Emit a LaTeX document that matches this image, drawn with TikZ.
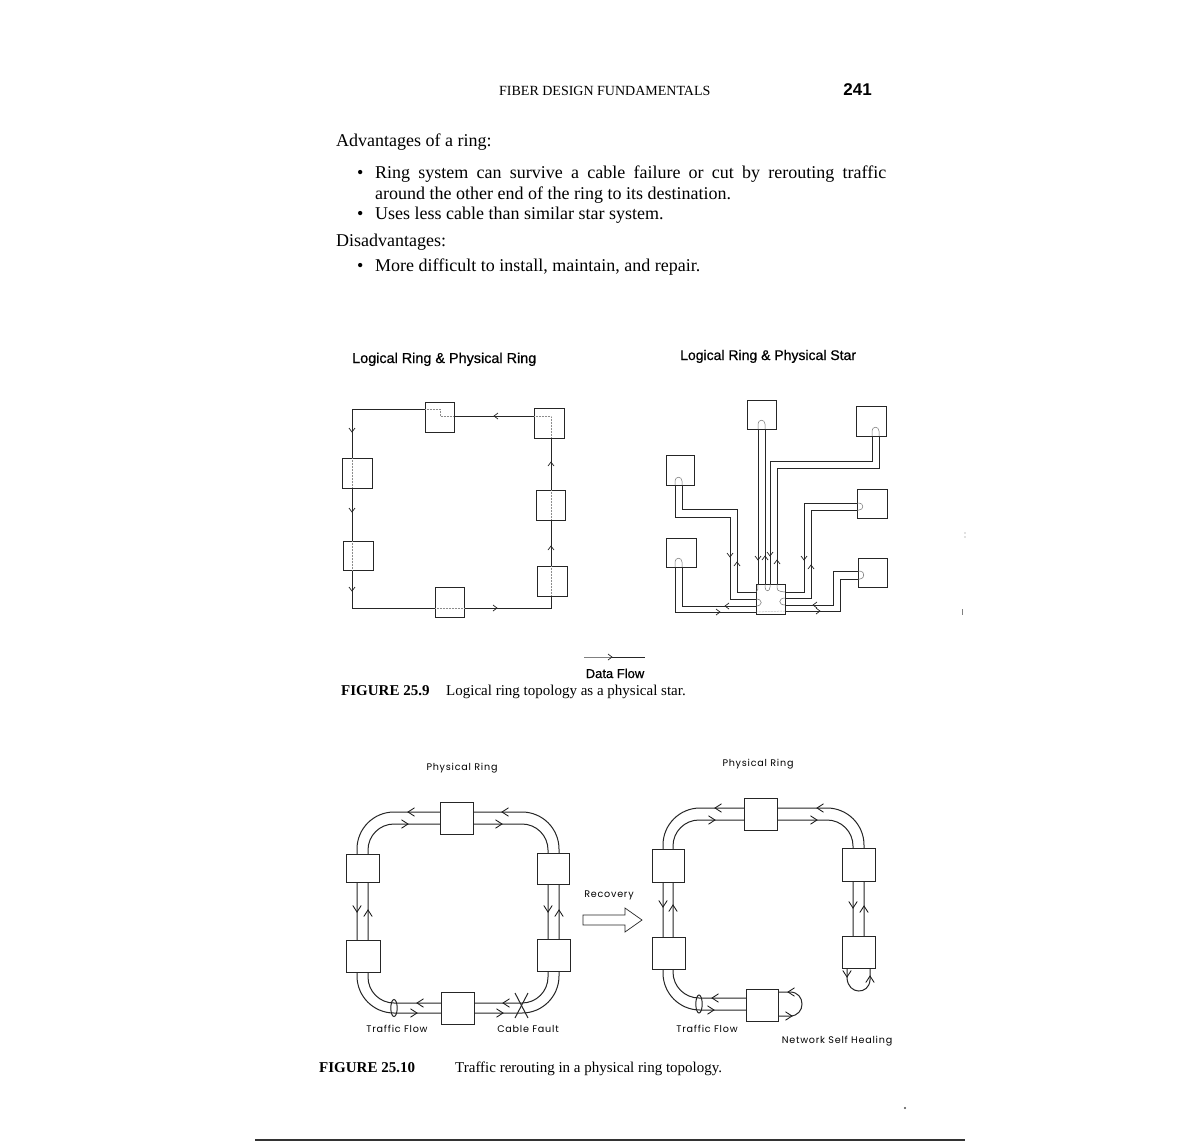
\documentclass[tikz,border=0pt]{standalone}
\usepackage{fontspec}
\setmainfont{Liberation Serif}
\newfontfamily\hv{Liberation Sans}
\newfontfamily\hvb[FakeBold=0.6]{Liberation Sans}
\newfontfamily\geo[LetterSpace=8]{Poppins}
\newcommand\bodyf{\fontsize{18}{21}\selectfont}
\newcommand\capf{\fontsize{15}{17}\selectfont}
\newcommand\lblf{\geo\fontsize{9.6}{11}\selectfont}
\tikzset{
  txt/.style={inner sep=0pt, anchor=base west},
  ln/.style={draw=black!85, line width=1pt},
  inr/.style={draw=black!45, line width=0.5pt, densely dotted},
  arcin/.style={draw=black!55, line width=0.5pt},
  boxst/.style={draw=black!85, line width=1pt, fill=white, inner sep=0pt, outer sep=0pt, anchor=north west},
  chevs/.pic={\draw[black!85, line width=0.7pt] (-4,3) -- (0,0) -- (-4,-3);},
  chevl/.pic={\draw[black!90, line width=0.85pt] (-6.5,4.2) -- (0,0) -- (-6.5,-4.2);},
}
% box by corners: name, x1, y1, x2, y2
\newcommand\bx[5]{\node[boxst, minimum width={(#4-#2)*1pt}, minimum height={(#5-#3)*1pt}] (#1) at (#2,#3) {};}
\newcommand\cs[3]{\pic[rotate=#3] at (#1,#2) {chevs};}
\newcommand\cl[3]{\pic[rotate=#3] at (#1,#2) {chevl};}
\begin{document}
\begin{tikzpicture}[x=1pt,y=-1pt]
\useasboundingbox[fill=white] (0,0) rectangle (1191,1144);

% ---------- header and text ----------
\node[txt, font=\fontsize{14}{16}\selectfont] (hdr) at (499,95) {FIBER DESIGN FUNDAMENTALS};
\node[inner sep=0pt, anchor=base east, font=\hv\bfseries\fontsize{17}{19}\selectfont] (pg) at (872,95) {241};

\node[txt, font=\bodyf] (adv) at (336,146) {Advantages of a ring:};
\node[txt, font=\bodyf] (b1) at (357,178) {\textbullet};
\node[txt, font=\bodyf] (t1) at (375,178) {\makebox[511pt][s]{Ring system can survive a cable failure or cut by rerouting traffic}};
\node[txt, font=\bodyf] (t2) at (375,199) {around the other end of the ring to its destination.};
\node[txt, font=\bodyf] (b2) at (357,219) {\textbullet};
\node[txt, font=\bodyf] (t3) at (375,219) {Uses less cable than similar star system.};
\node[txt, font=\bodyf] (dis) at (336,246) {Disadvantages:};
\node[txt, font=\bodyf] (b3) at (357,271) {\textbullet};
\node[txt, font=\bodyf] (t4) at (375,271) {More difficult to install, maintain, and repair.};

% ---------- Figure 25.9 titles ----------
\node[txt, font=\hvb\fontsize{14.4}{16}\selectfont] (ttl1) at (352,363) {Logical Ring \& Physical Ring};
\node[txt, font=\hvb\fontsize{14}{16}\selectfont] (ttl2) at (680,360) {Logical Ring \& Physical Star};

% ---------- Figure 25.9 left: logical ring, physical ring ----------
\draw[ln] (352,409) -- (440,409) -- (440,416) -- (551,416) -- (551,608) -- (352,608) -- cycle;
\bx{la}{425}{402}{454}{432}
\bx{lb}{534}{408}{564}{438}
\bx{lc}{536}{490}{565}{520}
\bx{ld}{537}{566}{567}{596}
\bx{le}{435}{587}{464}{617}
\bx{lf}{343}{541}{373}{570}
\bx{lg}{342}{458}{372}{488}
\draw[inr] (425,409) -- (440,409) -- (440,416) -- (454,416);
\draw[inr] (534,416) -- (551,416) -- (551,438);
\draw[inr] (551,490) -- (551,520);
\draw[inr] (551,566) -- (551,596);
\draw[inr] (435,608) -- (464,608);
\draw[inr] (352,541) -- (352,570);
\draw[inr] (352,458) -- (352,488);
\cs{352}{432}{270} \cs{352}{512}{270} \cs{352}{591}{270}
\cs{497}{608}{0}
\cs{551}{462}{90} \cs{551}{546}{90}
\cs{494}{416}{180}

% ---------- Figure 25.9 right: logical ring, physical star ----------
\draw[ln] (758,426) -- (758,584);
\draw[ln] (765,426) -- (765,584);
\draw[ln] (872,433) -- (872,461) -- (770,461) -- (770,584);
\draw[ln] (879,433) -- (879,468) -- (777,468) -- (777,584);
\draw[ln] (860,503) -- (804,503) -- (804,592) -- (785,592);
\draw[ln] (860,510) -- (811,510) -- (811,598) -- (785,598);
\draw[ln] (860,571) -- (833,571) -- (833,605) -- (785,605);
\draw[ln] (860,579) -- (840,579) -- (840,611) -- (785,611);
\draw[ln] (675,482) -- (675,517) -- (730,517) -- (730,599) -- (756,599);
\draw[ln] (682,482) -- (682,509) -- (737,509) -- (737,592) -- (756,592);
\draw[ln] (675,564) -- (675,612) -- (756,612);
\draw[ln] (682,564) -- (682,606) -- (756,606);
\bx{s1}{747}{400}{776}{429}
\bx{s2}{856}{406}{886}{436}
\bx{s3}{857}{489}{887}{518}
\bx{s4}{858}{558}{887}{587}
\bx{s5}{666}{455}{694}{485}
\bx{s6}{666}{538}{696}{567}
\bx{hub}{756}{584}{785}{614}
\draw[arcin] (758,429) -- (758,424) .. controls (758,419) and (765,419) .. (765,424) -- (765,429);
\draw[arcin] (872,436) -- (872,431) .. controls (872,426) and (879,426) .. (879,431) -- (879,436);
\draw[arcin] (857,503) -- (859,503) .. controls (864,503) and (864,510) .. (859,510) -- (857,510);
\draw[arcin] (858,571) -- (860,571) .. controls (865,571) and (865,579) .. (860,579) -- (858,579);
\draw[arcin] (675,485) -- (675,481) .. controls (675,476) and (682,476) .. (682,481) -- (682,485);
\draw[arcin] (675,567) -- (675,562) .. controls (675,557) and (682,557) .. (682,562) -- (682,567);
\draw[arcin] (758,584) .. controls (758,590) .. (756,592);
\draw[arcin] (765,584) -- (765,587) .. controls (765,592) and (770,592) .. (770,587) -- (770,584);
\draw[arcin] (777,584) .. controls (777,591) .. (785,592);
\draw[arcin] (756,599) .. controls (763,599) and (763,606) .. (756,606);
\draw[arcin] (785,598) .. controls (778,598) and (778,605) .. (785,605);
\draw[inr] (756,612) -- (785,611);
\cs{730}{557}{270} \cs{737}{562}{90}
\cs{758}{560}{270} \cs{765}{556}{90}
\cs{770}{556}{270} \cs{777}{560}{90}
\cs{804}{560}{270} \cs{811}{565}{90}
\cs{725}{606}{180} \cs{720}{612}{0}
\cs{813}{605}{180} \cs{820}{611}{0}

% legend
\coordinate (dfa) at (584,657);
\coordinate (dfm) at (612,657);
\coordinate (dfb) at (645,657);
\draw[draw=black!50, line width=0.8pt] (dfa) -- (dfm);
\draw[draw=black!85, line width=0.8pt] (dfm) -- (dfb);
\cs{612}{657}{0}
\node[inner sep=0pt, anchor=base, font=\hvb\fontsize{13}{15}\selectfont] (df) at (615,678) {Data Flow};

\node[txt, font=\capf\bfseries] (cap1a) at (341,695) {FIGURE 25.9};
\node[txt, font=\capf] (cap1b) at (446,695) {Logical ring topology as a physical star.};

% ---------- Figure 25.10 left ----------
\node[inner sep=0pt, font=\lblf] (pr1) at (462,768) {Physical Ring};
\draw[ln, rounded corners=37pt] (357,812) rectangle (559,1013);
\draw[ln, rounded corners=26pt] (368,824) rectangle (548,1003);
\bx{ra}{440}{802}{473}{834}
\bx{rb}{346}{854}{379}{882}
\bx{rc}{537}{853}{569}{884}
\bx{rd}{346}{940}{380}{972}
\bx{re}{537}{939}{570}{971}
\bx{rf}{441}{992}{474}{1024}
\cl{408}{812}{180} \cl{502}{812}{180}
\cl{408}{824}{0} \cl{502}{824}{0}
\cl{357}{912}{270} \cl{368}{910}{90}
\cl{548}{912}{270} \cl{559}{910}{90}
\cl{417}{1003}{180} \cl{503}{1003}{180}
\cl{417}{1013}{0} \cl{503}{1013}{0}
\draw[ln] (394,1008) ellipse [x radius=3.2, y radius=8.5];
\draw[ln] (515,993) -- (528,1018);
\draw[ln] (528,993) -- (515,1018);
\node[inner sep=0pt, font=\lblf] (tf1) at (397,1029) {Traffic Flow};
\node[inner sep=0pt, font=\lblf] (cf) at (528,1029) {Cable Fault};

% ---------- Recovery arrow ----------
\node[inner sep=0pt, font=\lblf] (rec) at (609,895) {Recovery};
\draw[ln, line width=0.7pt, fill=white] (583,915) -- (625,915) -- (625,908) -- (642,920) -- (625,932) -- (625,925) -- (583,925) -- cycle;

% ---------- Figure 25.10 right ----------
\node[inner sep=0pt, font=\lblf] (pr2) at (758,764) {Physical Ring};
\draw[ln, rounded corners=37pt] (746,1010) -- (663,1010) -- (663,808) -- (864,808) -- (864,936);
\draw[ln, rounded corners=26pt] (746,998) -- (673,998) -- (673,820) -- (853,820) -- (853,936);
\bx{qa}{744}{798}{777}{830}
\bx{qb}{652}{849}{684}{882}
\bx{qc}{842}{848}{875}{881}
\bx{qd}{652}{937}{685}{969}
\bx{qe}{842}{936}{875}{968}
\bx{qf}{746}{989}{778}{1021}
\draw[ln] (qf.east |- 0,992) -- (790,992) .. controls (806,992) and (806,1016) .. (790,1016) -- (qf.east |- 0,1016);
\draw[ln] (847,968) -- (847,978) .. controls (848,995) and (869,995) .. (870,980) -- (870,968);
\cl{715}{808}{180} \cl{817}{808}{180}
\cl{715}{820}{0} \cl{817}{820}{0}
\cl{663}{907}{270} \cl{673}{905}{90}
\cl{853}{908}{270} \cl{864}{906}{90}
\cl{712}{998}{180} \cl{714}{1010}{0}
\cl{788}{992}{180} \cl{792}{1016}{0}
\cl{847}{977}{270} \cl{870}{976}{90}
\draw[ln] (699,1004) ellipse [x radius=3.2, y radius=9];
\node[inner sep=0pt, font=\lblf] (tf2) at (707,1029) {Traffic Flow};
\node[inner sep=0pt, font=\lblf] (nsh) at (837,1041) {Network Self Healing};

\node[txt, font=\capf\bfseries] (cap2a) at (319,1072) {FIGURE 25.10};
\node[txt, font=\capf] (cap2b) at (455,1072) {Traffic rerouting in a physical ring topology.};

% ---------- page rule and specks ----------
\draw[black!80, line width=1.4pt] (255,1140) -- (965,1140);
\fill[black!70] (905,1108) circle (1.2);
\fill[black!50] (965,533) circle (0.6);
\fill[black!50] (965,537) circle (0.6);
\draw[black!50, line width=0.6pt] (962,609) -- (962,615);
\end{tikzpicture}
\end{document}
